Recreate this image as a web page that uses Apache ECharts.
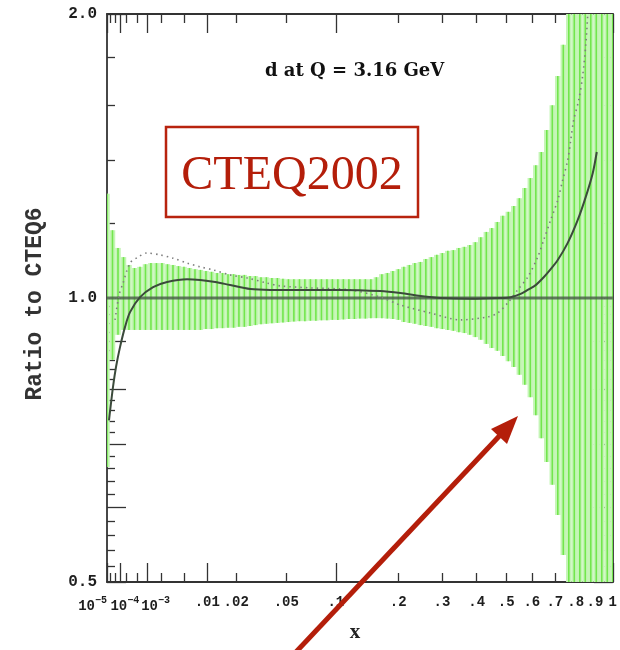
<!DOCTYPE html>
<html><head><meta charset="utf-8">
<script src="https://cdn.jsdelivr.net/npm/echarts@6/dist/echarts.min.js"></script>
<style>html,body{margin:0;padding:0;background:#fff}#c{width:620px;height:650px}</style>
</head><body><div id="c"></div>
<script>
// ---------------- data ----------------
var bandX = [1.0e-5, 3.33e-5, 7.85e-5, 1.53e-4, 2.63e-4, 4.17e-4, 6.22e-4, 8.84e-4, 1.21e-3, 1.61e-3,
  2.09e-3, 2.66e-3, 3.32e-3, 4.08e-3, 4.95e-3, 5.94e-3, 7.05e-3, 8.28e-3, 9.66e-3, 0.0112,
  0.0129, 0.0147, 0.0167, 0.0189, 0.0212, 0.0237, 0.0265, 0.0294, 0.0326, 0.0359,
  0.0395, 0.0433, 0.0474, 0.0517, 0.0562, 0.0611, 0.0661, 0.0715, 0.0771, 0.0831,
  0.0893, 0.0958, 0.1026, 0.1098, 0.1173, 0.1251, 0.1332, 0.1417, 0.1506, 0.1598,
  0.1694, 0.1793, 0.1897, 0.2004, 0.2115, 0.2231, 0.2350, 0.2474, 0.2601, 0.2734,
  0.2870, 0.3011, 0.3157, 0.3307, 0.3462, 0.3622, 0.3786, 0.3956, 0.4130, 0.4310,
  0.4494, 0.4684, 0.4879, 0.5080, 0.5286, 0.5497, 0.5714, 0.5936, 0.6165, 0.6399,
  0.6638, 0.6884, 0.7136, 0.7394, 0.7658, 0.7928, 0.8204, 0.8487, 0.8776, 0.9072,
  0.9374, 0.9683, 1.0];
var bandHi = [1.29, 1.18, 1.13, 1.105, 1.084, 1.076, 1.079, 1.086, 1.089, 1.089,
  1.089, 1.086, 1.084, 1.081, 1.079, 1.076, 1.073, 1.071, 1.068, 1.066,
  1.063, 1.063, 1.060, 1.060, 1.058, 1.058, 1.055, 1.055, 1.052, 1.052,
  1.050, 1.050, 1.048, 1.047, 1.047, 1.047, 1.047, 1.047, 1.047, 1.047,
  1.047, 1.047, 1.047, 1.047, 1.047, 1.047, 1.047, 1.047, 1.047, 1.052,
  1.060, 1.063, 1.068, 1.073, 1.079, 1.084, 1.089, 1.092, 1.100, 1.105,
  1.111, 1.116, 1.122, 1.124, 1.130, 1.133, 1.138, 1.146, 1.160, 1.175,
  1.186, 1.204, 1.222, 1.234, 1.252, 1.276, 1.308, 1.340, 1.383, 1.428,
  1.507, 1.601, 1.719, 1.855, 2.0, 2.0, 2.0, 2.0, 2.0, 2.0,
  2.0, 2.0, 2.0];
var bandLo = [0.662, 0.86, 0.914, 0.925, 0.925, 0.925, 0.925, 0.925, 0.925, 0.925,
  0.925, 0.925, 0.925, 0.925, 0.925, 0.925, 0.925, 0.925, 0.927, 0.927,
  0.929, 0.929, 0.930, 0.930, 0.932, 0.932, 0.934, 0.936, 0.938, 0.939,
  0.940, 0.941, 0.942, 0.943, 0.944, 0.945, 0.945, 0.946, 0.946, 0.947,
  0.947, 0.948, 0.948, 0.949, 0.950, 0.950, 0.951, 0.951, 0.952, 0.952,
  0.952, 0.951, 0.950, 0.948, 0.943, 0.941, 0.939, 0.936, 0.934, 0.932,
  0.929, 0.927, 0.925, 0.923, 0.920, 0.918, 0.914, 0.909, 0.903, 0.894,
  0.885, 0.879, 0.868, 0.857, 0.845, 0.829, 0.809, 0.785, 0.751, 0.710,
  0.670, 0.634, 0.589, 0.534, 0.5, 0.5, 0.5, 0.5, 0.5, 0.5,
  0.5, 0.5, 0.5];

var centralX = [1.64e-5, 3.65e-5, 5.92e-5, 1.02e-4, 1.80e-4, 2.89e-4, 6.25e-4, 1.356e-3, 2.62e-3, 5.50e-3,
  8.21e-3, 0.0123, 0.01755, 0.02663, 0.0384, 0.0619, 0.1058, 0.1668, 0.2046, 0.2477,
  0.2965, 0.381, 0.480, 0.5166, 0.555, 0.5829, 0.6159, 0.6502, 0.6812, 0.7133,
  0.7606, 0.8101, 0.8512, 0.8883, 0.9099];
var centralY = [0.742, 0.805, 0.845, 0.887, 0.932, 0.966, 1.002, 1.027, 1.040, 1.047,
  1.045, 1.040, 1.032, 1.022, 1.020, 1.020, 1.020, 1.017, 1.012, 1.005,
  1.0, 0.998, 1.0, 1.002, 1.010, 1.020, 1.032, 1.052, 1.073, 1.097,
  1.144, 1.210, 1.280, 1.357, 1.428];

var dottedX = [5.08e-5, 8.99e-5, 1.451e-4, 2.89e-4, 5.44e-4, 9.72e-4, 1.917e-3, 3.33e-3, 5.50e-3, 8.21e-3,
  0.01168, 0.01755, 0.0251, 0.03646, 0.0454, 0.07141, 0.1194, 0.1668, 0.2046, 0.2713,
  0.3513, 0.4353, 0.4696, 0.5055, 0.5433, 0.5829, 0.6244, 0.6502, 0.6812, 0.7133,
  0.7366, 0.7606, 0.7752, 0.7899, 0.8150, 0.8356, 0.8512, 0.8617];
var dottedY = [0.948, 1.007, 1.037, 1.089, 1.105, 1.116, 1.111, 1.102, 1.089, 1.079,
  1.071, 1.058, 1.050, 1.037, 1.030, 1.025, 1.020, 1.002, 0.983, 0.964,
  0.948, 0.955, 0.964, 0.988, 1.020, 1.052, 1.105, 1.152, 1.210, 1.270,
  1.334, 1.400, 1.470, 1.544, 1.621, 1.723, 1.855, 2.0];

var refX = [1e-5, 1];
var refY = [1.0, 1.0];

var xMin = 1e-5, xMax = 1;
var yMin = 0.5, yMax = 2.0;
var xMajorTicks = [1e-5, 1e-4, 1e-3, 0.01, 0.1, 1];
var xMinorTicks = [2e-5, 5e-5, 2e-4, 5e-4, 2e-3, 5e-3, 0.02, 0.05, 0.2, 0.3, 0.4, 0.5, 0.6, 0.7, 0.8, 0.9];
// tick labels (the three power labels are split over separate axes so none is dropped)
var xLabelValues = [1e-3, 0.01, 0.02, 0.05, 0.1, 0.2, 0.3, 0.4, 0.5, 0.6, 0.7, 0.8, 0.9, 1];
var xLabelTexts = ['{p2|}{n|10}{s|−3}', '.01', '.02', '.05', '.1', '.2', '.3', '.4', '.5', '.6', '.7', '.8', '.9', '1'];
var xLabelValuesA = [1e-5];
var xLabelTextsA = ['{n|10}{s|−5}'];
var xLabelValuesB = [1e-4];
var xLabelTextsB = ['{p1|}{n|10}{s|−4}'];
var yMajorTicks = [0.5, 0.6, 0.7, 0.8, 0.9, 1.0, 2.0];
var yMinorTicks = [0.52, 0.54, 0.56, 0.58, 0.62, 0.64, 0.66, 0.68, 0.72, 0.74, 0.76, 0.78,
  0.82, 0.84, 0.86, 0.88, 0.92, 0.94, 0.96, 0.98, 1.2, 1.4, 1.6, 1.8];
var yLabelValues = [0.5, 1.0, 2.0];
var yLabelTexts = ['0.5', '1.0', '2.0'];

var titleText = 'd at Q = 3.16 GeV';
var xName = 'x';
var yName = 'Ratio to CTEQ6';
var boxText = 'CTEQ2002';

// ---------------- scale transforms (x^(1/3), log2) ----------------
function U(x) { return Math.cbrt(x); }
function L(v) { return Math.log2(v); }
function pairs(xs, ys) { return xs.map(function (x, i) { return [U(x), L(ys[i])]; }); }
function nearestText(vals, texts, tv) {
  var best = 0, bd = Infinity;
  vals.forEach(function (v, i) { var d = Math.abs(v - tv); if (d < bd) { bd = d; best = i; } });
  return texts[best];
}

var frameColor = '#333';
var monoFont = '"Liberation Mono", "DejaVu Sans Mono", monospace';
var lblColor = '#1e1e1e';
var richX = {
  n: { fontFamily: monoFont, fontWeight: 'bold', fontSize: 14, color: lblColor, lineHeight: 18, verticalAlign: 'bottom' },
  s: { fontFamily: monoFont, fontWeight: 'bold', fontSize: 10, color: lblColor, lineHeight: 18, verticalAlign: 'top' },
  p1: { width: 10, fontSize: 14 },
  p2: { width: 16, fontSize: 14 }
};

function xLabels(vals, texts, extra) {
  var o = {
    show: true, margin: 13, customValues: vals.map(U),
    showMinLabel: true, showMaxLabel: true, hideOverlap: false,
    fontFamily: monoFont, fontWeight: 'bold', fontSize: 14, color: lblColor,
    formatter: function (v) { return nearestText(vals.map(U), texts, v); },
    rich: richX
  };
  for (var k in (extra || {})) o[k] = extra[k];
  return o;
}

function xAxisDef(pos, ticks, len, showLine, labels) {
  var a = {
    type: 'value', position: pos, min: U(xMin), max: U(xMax),
    splitLine: { show: false },
    axisLine: { show: showLine, onZero: false, lineStyle: { color: frameColor, width: 1.8 } },
    axisTick: ticks ? { show: true, inside: true, length: len, customValues: ticks.map(U),
      lineStyle: { color: frameColor, width: 1.3 } } : { show: false },
    axisLabel: labels || { show: false }
  };
  return a;
}
function yAxisDef(pos, ticks, len, showLine, withLabels) {
  var a = {
    type: 'value', position: pos, min: L(yMin), max: L(yMax),
    splitLine: { show: false },
    axisLine: { show: showLine, onZero: false, lineStyle: { color: frameColor, width: 1.8 } },
    axisTick: { show: true, inside: true, length: len, customValues: ticks.map(L),
      lineStyle: { color: frameColor, width: 1.3 } },
    axisLabel: { show: false }
  };
  if (withLabels) {
    a.axisLabel = {
      show: true, margin: 10, customValues: yLabelValues.map(L),
      showMinLabel: true, showMaxLabel: true, hideOverlap: false,
      fontFamily: monoFont, fontWeight: 'bold', fontSize: 16, color: lblColor,
      formatter: function (v) { return nearestText(yLabelValues.map(L), yLabelTexts, v); }
    };
    a.name = yName;
    a.nameLocation = 'middle';
    a.nameGap = 60;
    a.nameRotate = 90;
    a.nameTextStyle = { fontFamily: monoFont, fontWeight: 'bold', fontSize: 23, color: '#333', padding: [0, 12, 0, 0] };
  }
  return a;
}

var xMain = xAxisDef('bottom', xMajorTicks, 19, true, xLabels(xLabelValues, xLabelTexts));
xMain.name = xName;
xMain.nameLocation = 'middle';
xMain.nameGap = 40;
xMain.nameTextStyle = { fontFamily: '"Liberation Serif", serif', fontWeight: 'bold', fontSize: 21, color: '#222', padding: [0, 10, 0, 0] };

var bandData = bandX.map(function (x, i) { return [U(x), L(bandLo[i]), L(bandHi[i])]; });
var bandStep = (U(xMax) - U(xMin)) / (bandX.length - 1);

var chart = echarts.init(document.getElementById('c'), null, { renderer: 'canvas' });
chart.setOption({
  animation: false,
  backgroundColor: '#fff',
  grid: { left: 107, right: 7, top: 14, bottom: 68, containLabel: false },
  xAxis: [
    xMain,
    xAxisDef('bottom', xMinorTicks, 9, false, xLabels(xLabelValuesA, xLabelTextsA, { alignMinLabel: 'right' })),
    xAxisDef('top', xMajorTicks, 19, true, null),
    xAxisDef('top', xMinorTicks, 9, false, null),
    xAxisDef('bottom', null, 0, false, xLabels(xLabelValuesB, xLabelTextsB))
  ],
  yAxis: [
    yAxisDef('left', yMajorTicks, 19, true, true),
    yAxisDef('left', yMinorTicks, 8, false, false),
    yAxisDef('right', yMajorTicks, 19, true, false),
    yAxisDef('right', yMinorTicks, 8, false, false)
  ],
  series: [
    {
      type: 'custom', name: 'band', xAxisIndex: 0, yAxisIndex: 0, clip: true, z: 1,
      data: bandData, encode: { x: 0, y: [1, 2] },
      renderItem: function (params, api) {
        var u = api.value(0), lo = api.value(1), hi = api.value(2);
        var top = api.coord([u, hi]), bot = api.coord([u, lo]);
        var w = api.size([bandStep, 0])[0];
        return {
          type: 'group', children: [
            { type: 'rect', shape: { x: top[0] - w / 2, y: top[1], width: w, height: bot[1] - top[1] },
              style: { fill: '#c4f5b5' } },
            { type: 'line', shape: { x1: top[0], y1: top[1], x2: top[0], y2: bot[1] },
              style: { stroke: '#72e64c', lineWidth: 1.6 } }
          ]
        };
      }
    },
    {
      type: 'line', name: 'ref', data: pairs(refX, refY), symbol: 'none', z: 2,
      lineStyle: { color: 'rgba(70,90,70,0.8)', width: 3 }
    },
    {
      type: 'line', name: 'dotted', data: pairs(dottedX, dottedY), symbol: 'none', smooth: 0.3, z: 3,
      lineStyle: { color: '#7d7d7d', width: 1.6, type: [1.5, 4] }
    },
    {
      type: 'line', name: 'central', data: pairs(centralX, centralY), symbol: 'none', smooth: 0.3, z: 4,
      lineStyle: { color: '#3b4a3b', width: 2 }
    }
  ],
  graphic: [
    { type: 'text', left: 265, top: 62, z: 10,
      style: { text: titleText, font: 'bold 18px "DejaVu Serif", serif', fill: '#111' } },
    { type: 'rect', z: 10, shape: { x: 166, y: 127, width: 252, height: 90 },
      style: { fill: '#fff', stroke: '#b8230f', lineWidth: 2.5 } },
    { type: 'text', z: 11, x: 292, y: 176,
      style: { text: boxText, font: '48px "Liberation Serif", "Times New Roman", serif', fill: '#b41e0a',
        align: 'center', verticalAlign: 'middle' } },
    { type: 'line', z: 12, shape: { x1: 296, y1: 652, x2: 505, y2: 430 },
      style: { stroke: '#b41e0a', lineWidth: 5 } },
    { type: 'polygon', z: 12, shape: { points: [[518, 416], [507, 444], [491, 429]] },
      style: { fill: '#b41e0a' } }
  ]
});
</script></body></html>
